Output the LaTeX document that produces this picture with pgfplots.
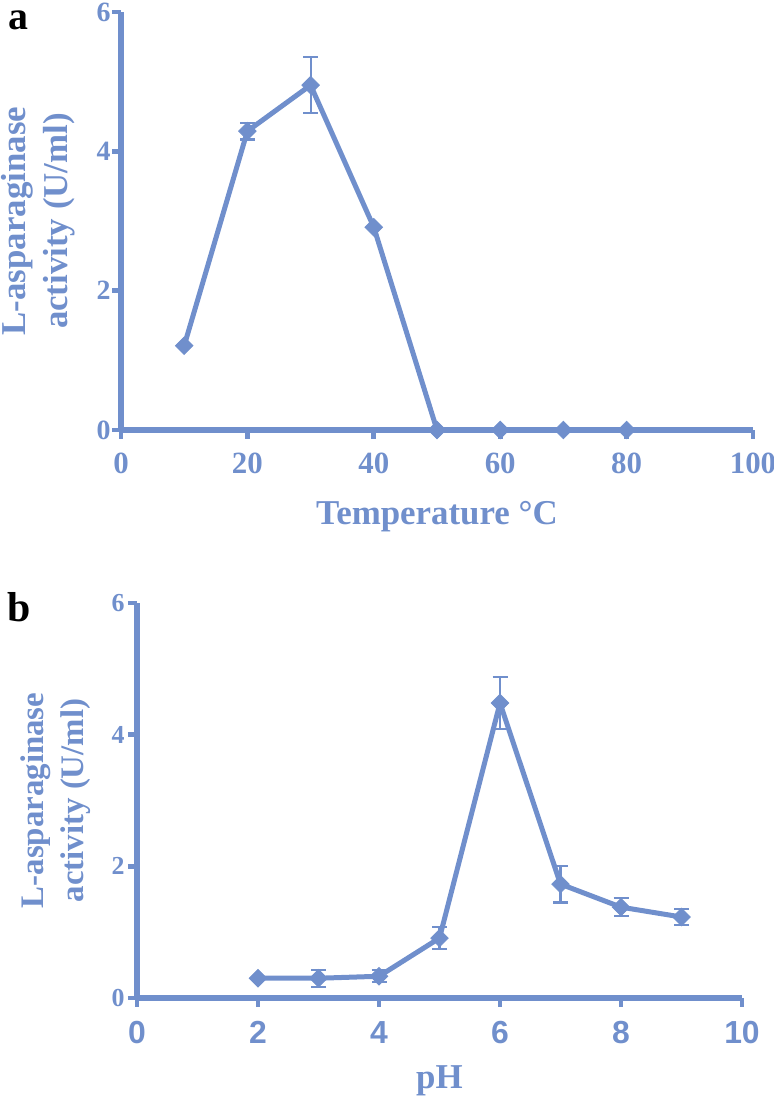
\documentclass[border=0pt]{standalone}
\usepackage{fontspec}
\setmainfont{Liberation Serif}
\newfontfamily\sansfont{Liberation Sans}
\usepackage{pgfplots}
\pgfplotsset{compat=1.18}
\definecolor{pb}{RGB}{112,143,204}
\pgfplotsset{
  myax/.style={
    scale only axis, axis lines=left,
    axis line style={-, line width=2.6bp, draw=pb},
    tick align=outside, major tick length=4.5bp,
    every tick/.style={line width=2.4bp, draw=pb},
    clip=false, /pgf/number format/assume math mode=true,
    ymin=0, ymax=6, ytick={0,2,4,6},
    xlabel style={anchor=base, font=\bfseries\fontsize{17.5}{21}\selectfont, text=pb},
    ylabel style={anchor=center, align=center, font=\bfseries\fontsize{17.5}{21}\selectfont, text=pb},
    xticklabel style={anchor=north, inner sep=0pt, yshift=-7bp, text=pb},
    yticklabel style={anchor=east, inner sep=0pt, xshift=-0.5bp, text=pb},
  },
  errplot/.style={pb, line width=1.1bp, only marks, mark=none, forget plot,
    error bars/.cd, y dir=both, y explicit,
    error bar style={line width=1.1bp, draw=pb},
    error mark options={rotate=90, line width=1.1bp, mark size=3.75bp, draw=pb}},
  mainplot/.style={pb, line width=2.5bp, mark=square*, mark size=3.1bp,
    mark options={rotate=45, solid, fill=pb, draw=pb, line width=0.4bp}},
}
\begin{document}
\begin{tikzpicture}
\useasboundingbox (0,0) rectangle (387bp,548bp);
\node[anchor=base west, inner sep=0pt, font=\bfseries\fontsize{20}{20}\selectfont] at (4bp,533bp) {a};
\node[anchor=base west, inner sep=0pt, font=\bfseries\fontsize{21}{21}\selectfont] at (3.5bp,237bp) {b};

\begin{axis}[myax,
  at={(60.5bp,333bp)}, anchor=south west,
  width=316bp, height=209bp,
  xmin=0, xmax=100, xtick={0,20,40,60,80,100},
  xticklabel style={font=\bfseries\fontsize{15.5}{15.5}\selectfont},
  yticklabel style={font=\bfseries\fontsize{14}{14}\selectfont},
  xlabel={Temperature °C},
  xlabel style={at={(axis description cs:0.5,-0.2273)}},
  ylabel={L-asparaginase\\activity (U/ml)},
  ylabel style={at={(axis description cs:-0.1305,0.5)}},
]
\addplot[errplot] coordinates {
  (20,4.29) +- (0,0.12)
  (30,4.95) +- (0,0.40)
};
\addplot[mainplot] coordinates {
  (10,1.21) (20,4.29) (30,4.95) (40,2.91) (50,0) (60,0) (70,0) (80,0)
};
\end{axis}

\begin{axis}[myax,
  at={(68.5bp,49bp)}, anchor=south west,
  width=302.5bp, height=197.5bp,
  xmin=0, xmax=10, xtick={0,2,4,6,8,10},
  xticklabel style={font=\sansfont\bfseries\fontsize{16}{16}\selectfont},
  yticklabel style={font=\bfseries\fontsize{13}{13}\selectfont, xshift=-1bp},
  xlabel={pH},
  xlabel style={at={(axis description cs:0.5,-0.228)}},
  ylabel={L-asparaginase\\activity (U/ml)},
  ylabel style={at={(axis description cs:-0.1339,0.5)}, font=\bfseries\fontsize{16.5}{20}\selectfont},
]
\addplot[errplot] coordinates {
  (3,0.30) +- (0,0.13)
  (4,0.33) +- (0,0.09)
  (5,0.91) +- (0,0.17)
  (6,4.48) +- (0,0.40)
  (7,1.73) +- (0,0.28)
  (8,1.38) +- (0,0.14)
  (9,1.23) +- (0,0.12)
};
\addplot[mainplot] coordinates {
  (2,0.30) (3,0.30) (4,0.33) (5,0.91) (6,4.48) (7,1.73) (8,1.38) (9,1.23)
};
\end{axis}
\end{tikzpicture}
\end{document}
